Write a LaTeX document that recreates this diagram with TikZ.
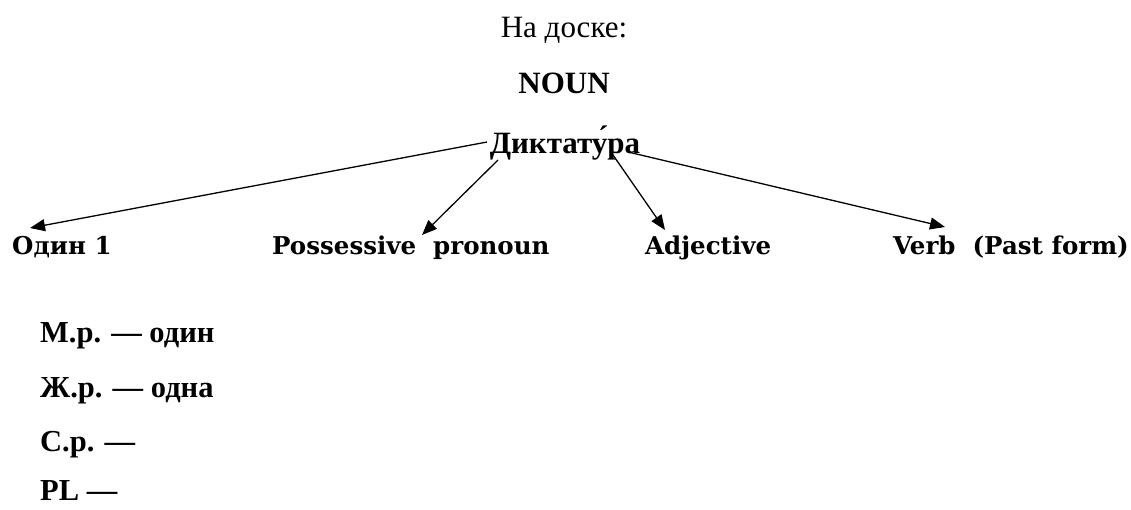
\documentclass[tikz,border=0pt]{standalone}
\usepackage{fontspec}
\setmainfont{Liberation Serif}
\newfontfamily\labfont{DejaVu Serif}
\usetikzlibrary{arrows.meta}
\begin{document}
\begin{tikzpicture}[x=1pt,y=-1pt,
  ttl/.style={inner sep=0pt, anchor=base, font=\fontsize{31}{31}\selectfont},
  lab/.style={inner sep=0pt, anchor=base west, font=\labfont\bfseries\fontsize{24.5}{24.5}\selectfont},
  item/.style={inner sep=0pt, anchor=base west, font=\bfseries\fontsize{30.5}{30.5}\selectfont},
  arr/.style={line width=1.3pt, -{Triangle[length=15pt,width=12pt]}}]
\useasboundingbox (0,0) rectangle (1131,509);
\node[ttl] (board) at (564,37) {На доске:};
\node[ttl, font=\bfseries\fontsize{31}{31}\selectfont] (noun) at (564,93) {NOUN};
\node[ttl, font=\bfseries\fontsize{31}{31}\selectfont] (dik) at (565,153) {Диктату́ра};
\node[lab] (odin) at (12,254) {Один 1};
\node[lab] (poss) at (272,254) {Possessive\ \ pronoun};
\node[lab] (adj) at (645,254) {Adjective};
\node[lab] (verb) at (893,254) {Verb\ \ (Past form)};
\coordinate (s1) at (487,142);
\coordinate (s2) at (498,160);
\coordinate (s3) at (613,155);
\coordinate (s4) at (628,152);
\coordinate (t1) at (30,228);
\coordinate (t2) at (422,235);
\coordinate (t3) at (665,230);
\coordinate (t4) at (945,227);
\draw[arr] (s1) -- (t1);
\draw[arr] (s2) -- (t2);
\draw[arr] (s3) -- (t3);
\draw[arr] (s4) -- (t4);
\node[item] (m) at (40,342) {М.р. — один};
\node[item] (zh) at (40,397) {Ж.р. — одна};
\node[item] (s) at (40,451) {С.р. —};
\node[item] (pl) at (40,500) {PL —};
\end{tikzpicture}
\end{document}
